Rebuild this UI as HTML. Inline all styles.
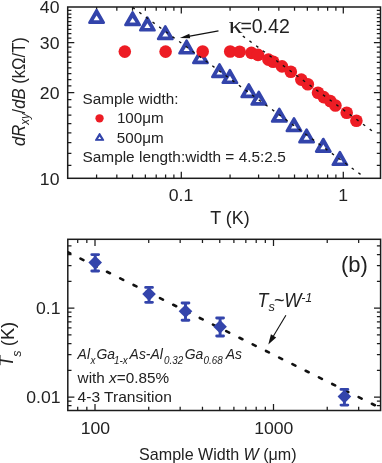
<!DOCTYPE html>
<html><head><meta charset="utf-8"><title>chart</title>
<style>
html,body{margin:0;padding:0;background:#fff;}
body{width:382px;height:463px;overflow:hidden;font-family:"Liberation Sans",sans-serif;}
svg{will-change:transform;display:block;position:absolute;left:0;top:0;font-family:"Liberation Sans",sans-serif;}
</style></head><body>
<svg width="382" height="463" viewBox="0 0 382 463">
<rect width="382" height="463" fill="#fff"/>
<rect x="67.7" y="7.0" width="312.8" height="171.3" fill="none" stroke="#1c1c1c" stroke-width="1.5"/>
<path d="M96.59 7.0v3.7M96.59 178.3v-3.7M116.83 7.0v3.7M116.83 178.3v-3.7M132.53 7.0v3.7M132.53 178.3v-3.7M145.36 7.0v3.7M145.36 178.3v-3.7M156.21 7.0v3.7M156.21 178.3v-3.7M165.60 7.0v3.7M165.60 178.3v-3.7M173.89 7.0v3.7M173.89 178.3v-3.7M181.30 7.0v6.6M181.30 178.3v-6.6M230.07 7.0v3.7M230.07 178.3v-3.7M258.59 7.0v3.7M258.59 178.3v-3.7M278.83 7.0v3.7M278.83 178.3v-3.7M294.53 7.0v3.7M294.53 178.3v-3.7M307.36 7.0v3.7M307.36 178.3v-3.7M318.21 7.0v3.7M318.21 178.3v-3.7M327.60 7.0v3.7M327.60 178.3v-3.7M335.89 7.0v3.7M335.89 178.3v-3.7M343.30 7.0v6.6M343.30 178.3v-6.6M67.7 165.27h3.7M380.5 165.27h-3.7M67.7 153.49h3.7M380.5 153.49h-3.7M67.7 142.73h3.7M380.5 142.73h-3.7M67.7 132.84h3.7M380.5 132.84h-3.7M67.7 123.68h3.7M380.5 123.68h-3.7M67.7 115.15h3.7M380.5 115.15h-3.7M67.7 107.17h3.7M380.5 107.17h-3.7M67.7 99.68h3.7M380.5 99.68h-3.7M67.7 92.62h6.6M380.5 92.62h-6.6M67.7 85.93h3.7M380.5 85.93h-3.7M67.7 79.59h3.7M380.5 79.59h-3.7M67.7 73.56h3.7M380.5 73.56h-3.7M67.7 67.81h3.7M380.5 67.81h-3.7M67.7 62.32h3.7M380.5 62.32h-3.7M67.7 57.06h3.7M380.5 57.06h-3.7M67.7 52.01h3.7M380.5 52.01h-3.7M67.7 47.16h3.7M380.5 47.16h-3.7M67.7 42.50h6.6M380.5 42.50h-6.6M67.7 38.00h3.7M380.5 38.00h-3.7M67.7 33.67h3.7M380.5 33.67h-3.7M67.7 29.48h3.7M380.5 29.48h-3.7M67.7 25.42h3.7M380.5 25.42h-3.7M67.7 21.50h3.7M380.5 21.50h-3.7M67.7 17.70h3.7M380.5 17.70h-3.7M67.7 14.01h3.7M380.5 14.01h-3.7M67.7 10.42h3.7M380.5 10.42h-3.7" stroke="#1c1c1c" stroke-width="1.25" fill="none"/>
<path d="M96.60 10.10L103.76 22.70L89.44 22.70Z" fill="#3344ab" stroke="#3344ab" stroke-width="2.60" stroke-linejoin="round"/><path d="M96.60 15.60L99.60 20.30L93.60 20.30Z" fill="#fff"/>
<path d="M132.60 12.40L139.76 25.00L125.44 25.00Z" fill="#3344ab" stroke="#3344ab" stroke-width="2.60" stroke-linejoin="round"/><path d="M132.60 17.90L135.60 22.60L129.60 22.60Z" fill="#fff"/>
<path d="M147.40 17.70L154.56 30.30L140.24 30.30Z" fill="#3344ab" stroke="#3344ab" stroke-width="2.60" stroke-linejoin="round"/><path d="M147.40 23.20L150.40 27.90L144.40 27.90Z" fill="#fff"/>
<path d="M165.30 26.40L172.46 39.00L158.14 39.00Z" fill="#3344ab" stroke="#3344ab" stroke-width="2.60" stroke-linejoin="round"/><path d="M165.30 31.90L168.30 36.60L162.30 36.60Z" fill="#fff"/>
<path d="M186.60 40.70L193.76 53.30L179.44 53.30Z" fill="#3344ab" stroke="#3344ab" stroke-width="2.60" stroke-linejoin="round"/><path d="M186.60 46.20L189.60 50.90L183.60 50.90Z" fill="#fff"/>
<path d="M200.50 50.30L207.66 62.90L193.34 62.90Z" fill="#3344ab" stroke="#3344ab" stroke-width="2.60" stroke-linejoin="round"/><path d="M200.50 55.80L203.50 60.50L197.50 60.50Z" fill="#fff"/>
<path d="M219.50 64.30L226.66 76.90L212.34 76.90Z" fill="#3344ab" stroke="#3344ab" stroke-width="2.60" stroke-linejoin="round"/><path d="M219.50 69.80L222.50 74.50L216.50 74.50Z" fill="#fff"/>
<path d="M229.90 70.20L237.06 82.80L222.74 82.80Z" fill="#3344ab" stroke="#3344ab" stroke-width="2.60" stroke-linejoin="round"/><path d="M229.90 75.70L232.90 80.40L226.90 80.40Z" fill="#fff"/>
<path d="M248.80 84.30L255.96 96.90L241.64 96.90Z" fill="#3344ab" stroke="#3344ab" stroke-width="2.60" stroke-linejoin="round"/><path d="M248.80 89.80L251.80 94.50L245.80 94.50Z" fill="#fff"/>
<path d="M258.80 91.90L265.96 104.50L251.64 104.50Z" fill="#3344ab" stroke="#3344ab" stroke-width="2.60" stroke-linejoin="round"/><path d="M258.80 97.40L261.80 102.10L255.80 102.10Z" fill="#fff"/>
<path d="M279.30 108.90L286.46 121.50L272.14 121.50Z" fill="#3344ab" stroke="#3344ab" stroke-width="2.60" stroke-linejoin="round"/><path d="M279.30 114.40L282.30 119.10L276.30 119.10Z" fill="#fff"/>
<path d="M294.00 118.30L301.16 130.90L286.84 130.90Z" fill="#3344ab" stroke="#3344ab" stroke-width="2.60" stroke-linejoin="round"/><path d="M294.00 123.80L297.00 128.50L291.00 128.50Z" fill="#fff"/>
<path d="M306.60 129.60L313.76 142.20L299.44 142.20Z" fill="#3344ab" stroke="#3344ab" stroke-width="2.60" stroke-linejoin="round"/><path d="M306.60 135.10L309.60 139.80L303.60 139.80Z" fill="#fff"/>
<path d="M323.30 139.00L330.46 151.60L316.14 151.60Z" fill="#3344ab" stroke="#3344ab" stroke-width="2.60" stroke-linejoin="round"/><path d="M323.30 144.50L326.30 149.20L320.30 149.20Z" fill="#fff"/>
<path d="M339.90 152.20L347.06 164.80L332.74 164.80Z" fill="#3344ab" stroke="#3344ab" stroke-width="2.60" stroke-linejoin="round"/><path d="M339.90 157.70L342.90 162.40L336.90 162.40Z" fill="#fff"/>
<circle cx="124.8" cy="51.6" r="6.3" fill="#ed1c24"/>
<circle cx="165.6" cy="51.6" r="6.3" fill="#ed1c24"/>
<circle cx="202.7" cy="51.5" r="6.3" fill="#ed1c24"/>
<circle cx="230.2" cy="51.5" r="6.3" fill="#ed1c24"/>
<circle cx="239.6" cy="51.8" r="6.3" fill="#ed1c24"/>
<circle cx="251.4" cy="52.9" r="6.3" fill="#ed1c24"/>
<circle cx="258" cy="54.9" r="6.3" fill="#ed1c24"/>
<circle cx="268.4" cy="59.6" r="6.3" fill="#ed1c24"/>
<circle cx="273.2" cy="61.8" r="6.3" fill="#ed1c24"/>
<circle cx="282" cy="66.4" r="6.3" fill="#ed1c24"/>
<circle cx="290.8" cy="71.8" r="6.3" fill="#ed1c24"/>
<circle cx="301.3" cy="79.6" r="6.3" fill="#ed1c24"/>
<circle cx="307.8" cy="84.2" r="6.3" fill="#ed1c24"/>
<circle cx="318" cy="92.8" r="6.3" fill="#ed1c24"/>
<circle cx="323.7" cy="97.1" r="6.3" fill="#ed1c24"/>
<circle cx="330.2" cy="101" r="6.3" fill="#ed1c24"/>
<circle cx="335.4" cy="105.5" r="6.3" fill="#ed1c24"/>
<circle cx="346.7" cy="112.8" r="6.3" fill="#ed1c24"/>
<circle cx="356.4" cy="120.7" r="6.3" fill="#ed1c24"/>
<path d="M132.61 7.40L134.79 9.00M139.25 12.27L141.43 13.86M145.89 17.13L148.07 18.73M152.53 22.00L154.71 23.59M159.17 26.86L161.35 28.46M165.81 31.73L167.99 33.32M172.45 36.59L174.63 38.19M179.09 41.46L181.27 43.05M185.73 46.32L187.91 47.92M192.37 51.19L194.55 52.78M199.01 56.05L201.19 57.65M205.65 60.92L207.83 62.51M212.29 65.78L214.47 67.38M218.93 70.65L221.11 72.24M225.57 75.51L227.75 77.11M232.21 80.38L234.39 81.97M238.85 85.24L241.03 86.84M245.49 90.11L247.67 91.70M252.13 94.97L254.31 96.57M258.77 99.84L260.95 101.43M265.41 104.70L267.59 106.30M272.05 109.57L274.23 111.16M278.69 114.43L280.87 116.03M285.33 119.30L287.51 120.89M291.97 124.16L294.15 125.76M298.61 129.03L300.79 130.62M305.25 133.89L307.43 135.49M311.89 138.76L314.07 140.35M318.53 143.62L320.71 145.22M325.17 148.49L327.35 150.08M331.81 153.35L333.99 154.95M338.45 158.22L340.63 159.81M345.09 163.08L347.27 164.68M351.73 167.95L353.91 169.54M358.37 172.81L360.55 174.41M369.71 129.10L371.89 130.70M363.03 124.20L365.21 125.80M356.35 119.30L358.53 120.90M349.67 114.40L351.85 116.00M342.99 109.50L345.17 111.10M336.31 104.60L338.49 106.20M329.63 99.70L331.81 101.30M322.95 94.80L325.13 96.40M316.27 89.90L318.45 91.50M309.59 85.00L311.77 86.60M302.91 80.10L305.09 81.70M296.23 75.20L298.41 76.80M289.55 70.30L291.73 71.90M282.87 65.40L285.05 67.00M276.19 60.50L278.37 62.10M269.51 55.60L271.69 57.20M262.83 50.70L265.01 52.30M256.15 45.80L258.33 47.40M249.47 40.90L251.65 42.50M242.79 36.00L244.97 37.60" stroke="#111" stroke-width="1.35" fill="none"/>
<line x1="218.5" y1="30.9" x2="188.5" y2="36.35" stroke="#111" stroke-width="1.1"/>
<path d="M179.9 37.9 L189.34 33.83 L190.16 38.37Z" fill="#111"/>
<text transform="translate(228.6 33.1) scale(1.2 1)" font-family="Liberation Serif" font-size="23.5" fill="#222222">κ</text>
<text x="240.4" y="33.1" font-size="19.5" fill="#222222">=0.42</text>
<text x="82.6" y="104.4" font-size="15.25" fill="#222222">Sample width:</text>
<text x="116.9" y="123.2" font-size="15.2" fill="#222222">100μm</text>
<text x="116.8" y="142.8" font-size="15.2" fill="#222222">500μm</text>
<text x="82.5" y="161.5" font-size="15.4" fill="#222222">Sample length:width = 4.5:2.5</text>
<circle cx="99.55" cy="118.3" r="4.15" fill="#ed1c24"/>
<path d="M99.60 133.62L103.54 140.18L95.66 140.18Z" fill="#3344ab" stroke="#3344ab" stroke-width="1.34" stroke-linejoin="round"/><path d="M99.60 136.53L101.14 138.95L98.06 138.95Z" fill="#fff"/>
<text transform="translate(59.5 13.0) scale(1.02 1)" text-anchor="end" font-size="17.3" fill="#222222">40</text>
<text transform="translate(59.5 48.5) scale(1.02 1)" text-anchor="end" font-size="17.3" fill="#222222">30</text>
<text transform="translate(59.5 98.5) scale(1.02 1)" text-anchor="end" font-size="17.3" fill="#222222">20</text>
<text transform="translate(59.5 184.8) scale(1.02 1)" text-anchor="end" font-size="17.3" fill="#222222">10</text>
<text transform="translate(181 200.8) scale(1.02 1)" text-anchor="middle" font-size="17.3" fill="#222222">0.1</text>
<text transform="translate(343.2 200.8) scale(1.02 1)" text-anchor="middle" font-size="17.3" fill="#222222">1</text>
<text x="230.0" y="224.2" text-anchor="middle" font-size="17.9" fill="#222222">T (K)</text>
<text transform="translate(24.8 91.6) rotate(-90) scale(0.915 1)" text-anchor="middle" font-size="18.2" fill="#222222"><tspan font-style="italic">dR</tspan><tspan font-style="italic" font-size="12.5" dy="4">xy</tspan><tspan dy="-4">/</tspan><tspan font-style="italic">dB</tspan> (kΩ/T)</text>
<rect x="67.8" y="239.3" width="312.8" height="171.2" fill="none" stroke="#1c1c1c" stroke-width="1.5"/>
<path d="M77.70 239.3v3.7M77.70 410.5v-3.7M86.83 239.3v3.7M86.83 410.5v-3.7M95.00 239.3v6.6M95.00 410.5v-6.6M148.73 239.3v3.7M148.73 410.5v-3.7M180.17 239.3v3.7M180.17 410.5v-3.7M202.47 239.3v3.7M202.47 410.5v-3.7M219.77 239.3v3.7M219.77 410.5v-3.7M233.90 239.3v3.7M233.90 410.5v-3.7M245.85 239.3v3.7M245.85 410.5v-3.7M256.20 239.3v3.7M256.20 410.5v-3.7M265.33 239.3v3.7M265.33 410.5v-3.7M273.50 239.3v6.6M273.50 410.5v-6.6M327.23 239.3v3.7M327.23 410.5v-3.7M358.67 239.3v3.7M358.67 410.5v-3.7M67.8 405.72h3.7M380.6 405.72h-3.7M67.8 401.17h3.7M380.6 401.17h-3.7M67.8 397.10h6.6M380.6 397.10h-6.6M67.8 370.31h3.7M380.6 370.31h-3.7M67.8 354.64h3.7M380.6 354.64h-3.7M67.8 343.52h3.7M380.6 343.52h-3.7M67.8 334.89h3.7M380.6 334.89h-3.7M67.8 327.84h3.7M380.6 327.84h-3.7M67.8 321.89h3.7M380.6 321.89h-3.7M67.8 316.72h3.7M380.6 316.72h-3.7M67.8 312.17h3.7M380.6 312.17h-3.7M67.8 308.10h6.6M380.6 308.10h-6.6M67.8 281.31h3.7M380.6 281.31h-3.7M67.8 265.64h3.7M380.6 265.64h-3.7M67.8 254.52h3.7M380.6 254.52h-3.7M67.8 245.89h3.7M380.6 245.89h-3.7" stroke="#1c1c1c" stroke-width="1.25" fill="none"/>
<clipPath id="cb"><rect x="67.8" y="239.3" width="312.8" height="171.2"/></clipPath>
<path d="M67.28 251.97L70.24 253.44M80.53 258.57L83.48 260.04M93.77 265.17L96.73 266.64M107.02 271.77L109.97 273.24M120.26 278.37L123.22 279.84M133.51 284.97L136.46 286.44M146.75 291.57L149.71 293.04M160.00 298.17L162.95 299.64M173.24 304.77L176.20 306.24M186.49 311.37L189.44 312.84M199.73 317.97L202.69 319.44M212.98 324.57L215.93 326.04M226.22 331.17L229.18 332.64M239.47 337.77L242.42 339.24M252.71 344.37L255.67 345.84M265.96 350.97L268.91 352.44M279.20 357.57L282.16 359.04M292.45 364.17L295.40 365.64M305.69 370.77L308.65 372.24M318.94 377.37L321.89 378.84M332.18 383.97L335.14 385.44M345.43 390.57L348.38 392.04M358.67 397.17L361.63 398.64M371.92 403.77L374.87 405.24" stroke="#111" stroke-width="2.6" stroke-linecap="round" fill="none" clip-path="url(#cb)"/>
<path d="M95.2 254.6V271.0M91.8 254.6h6.8M91.8 271.0h6.8" stroke="#3344ab" stroke-width="2.9" stroke-linecap="round" fill="none"/>
<path d="M95.2 255.8L102.0 262.6L95.2 269.40000000000003L88.4 262.6Z" fill="#3344ab"/>
<path d="M149.05 287.4V302.35M145.65 287.4h6.8M145.65 302.35h6.8" stroke="#3344ab" stroke-width="2.9" stroke-linecap="round" fill="none"/>
<path d="M149.05 287.3L155.85000000000002 294.1L149.05 300.90000000000003L142.25 294.1Z" fill="#3344ab"/>
<path d="M185.5 303.0V320.3M182.1 303.0h6.8M182.1 320.3h6.8" stroke="#3344ab" stroke-width="2.9" stroke-linecap="round" fill="none"/>
<path d="M185.5 304.5L192.3 311.3L185.5 318.1L178.7 311.3Z" fill="#3344ab"/>
<path d="M220.1 318.0V336.0M216.7 318.0h6.8M216.7 336.0h6.8" stroke="#3344ab" stroke-width="2.9" stroke-linecap="round" fill="none"/>
<path d="M220.1 319.9L226.9 326.7L220.1 333.5L213.29999999999998 326.7Z" fill="#3344ab"/>
<path d="M344.4 389.4V405.1M341.0 389.4h6.8M341.0 405.1h6.8" stroke="#3344ab" stroke-width="2.9" stroke-linecap="round" fill="none"/>
<path d="M344.4 389.8L351.2 396.6L344.4 403.40000000000003L337.59999999999997 396.6Z" fill="#3344ab"/>
<line x1="285.9" y1="315.3" x2="273.0" y2="336.8" stroke="#111" stroke-width="1.1"/>
<path d="M268.3 344.6 L270.94 334.29 L276.16 337.43Z" fill="#111"/>
<text transform="translate(257.6 307.2) scale(0.87 1)" font-size="20.5" font-style="italic" fill="#222222">T</text>
<text transform="translate(268.6 311.4) scale(0.95 1)" font-size="13.5" font-style="italic" fill="#222222">s</text>
<text transform="translate(273.7 307.2) scale(0.89 1)" font-size="20.5" font-style="italic" fill="#222222">~W</text>
<text transform="translate(301.2 301.5) scale(1.0 1)" font-size="12.5" font-style="italic" fill="#222222">-1</text>
<text x="341" y="271.7" font-size="22" fill="#222222">(b)</text>
<text transform="translate(77.6 358.8) scale(0.96 1)" font-size="14.5" font-style="italic" fill="#222222">Al</text>
<text transform="translate(90.6 364.0) scale(0.915 1)" font-size="10.8" font-style="italic" fill="#222222">x</text>
<text transform="translate(96.4 358.8) scale(0.96 1)" font-size="14.5" font-style="italic" fill="#222222">Ga</text>
<text transform="translate(114.0 364.0) scale(0.915 1)" font-size="10.8" font-style="italic" fill="#222222">1-x</text>
<text transform="translate(129.6 358.8) scale(0.96 1)" font-size="14.5" font-style="italic" fill="#222222">As-Al</text>
<text transform="translate(163.9 364.0) scale(0.915 1)" font-size="10.8" font-style="italic" fill="#222222">0.32</text>
<text transform="translate(184.7 358.8) scale(0.96 1)" font-size="14.5" font-style="italic" fill="#222222">Ga</text>
<text transform="translate(203.6 364.0) scale(0.915 1)" font-size="10.8" font-style="italic" fill="#222222">0.68</text>
<text transform="translate(225.8 358.8) scale(0.96 1)" font-size="14.5" font-style="italic" fill="#222222">As</text>
<text x="77.6" y="383.1" font-size="15.3" fill="#222222">with <tspan font-style="italic">x</tspan>=0.85%</text>
<text x="77.6" y="401.9" font-size="15.55" fill="#222222">4-3 Transition</text>
<text transform="translate(60.6 314.0) scale(1.02 1)" text-anchor="end" font-size="17.3" fill="#222222">0.1</text>
<text transform="translate(60.6 403.1) scale(1.02 1)" text-anchor="end" font-size="17.3" fill="#222222">0.01</text>
<text transform="translate(95.4 433.8) scale(1.02 1)" text-anchor="middle" font-size="17.3" fill="#222222">100</text>
<text transform="translate(273.8 433.8) scale(1.02 1)" text-anchor="middle" font-size="17.3" fill="#222222">1000</text>
<text transform="translate(139.1 460) scale(1.025 1)" font-size="15.7" fill="#222222">Sample Width <tspan font-style="italic">W</tspan> (μm)</text>
<text transform="translate(13.4 366.7) rotate(-90) scale(0.9 1)" font-size="20" font-style="italic" fill="#222222">T</text>
<text transform="translate(20.6 356.8) rotate(-90)" font-size="12.6" font-style="italic" fill="#222222">s</text>
<text transform="translate(13.6 346.2) rotate(-90)" font-size="18.3" fill="#222222">(K)</text>
</svg>
</body></html>
